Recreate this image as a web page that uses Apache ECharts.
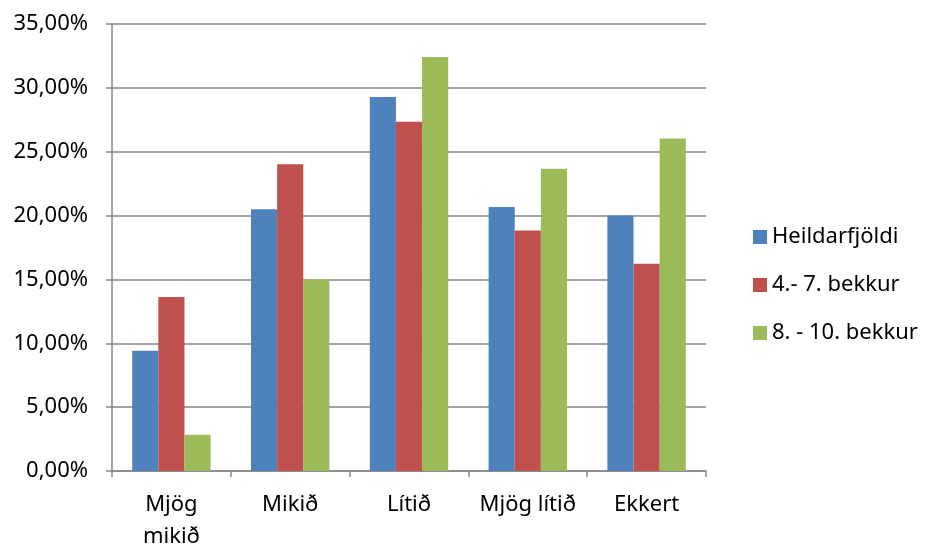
<!DOCTYPE html>
<html>
<head>
<meta charset="utf-8">
<script src="https://cdn.jsdelivr.net/npm/echarts@6/dist/echarts.min.js"></script>
<style>
html, body { margin: 0; padding: 0; background: #fff; }
#chart { width: 925px; height: 546px; }
</style>
</head>
<body>
<div id="chart"></div>
<script>
var categories = ['Mjög\nmikið', 'Mikið', 'Lítið', 'Mjög lítið', 'Ekkert'];
var seriesNames = ['Heildarfjöldi', '4.- 7. bekkur', '8. - 10. bekkur'];
var heildar = [9.42, 20.49, 29.28, 20.67, 20.0];
var yngri = [13.63, 24.02, 27.34, 18.84, 16.22];
var eldri = [2.83, 15.0, 32.42, 23.67, 26.03];
var colors = ['#4F81BD', '#C0504D', '#9BBB59'];

var font = 'Noto Sans';
var myChart = echarts.init(document.getElementById('chart'));

var option = {
    animation: false,
    color: colors,
    grid: {
        left: 112,
        right: 219,
        top: 24,
        bottom: 75,
        outerBoundsMode: 'none'
    },
    legend: {
        orient: 'vertical',
        left: 748,
        top: 221,
        itemWidth: 14,
        itemHeight: 14,
        itemGap: 26,
        icon: 'rect',
        data: seriesNames,
        textStyle: {
            color: '#000',
            fontSize: 22,
            fontFamily: font
        }
    },
    xAxis: {
        type: 'category',
        data: categories,
        axisLine: { lineStyle: { color: '#868686', width: 1.5 } },
        axisTick: { show: true, length: 6, lineStyle: { color: '#868686', width: 1.5 } },
        axisLabel: {
            interval: 0,
            color: '#000',
            fontSize: 22,
            fontFamily: font,
            margin: 18,
            lineHeight: 32
        }
    },
    yAxis: {
        type: 'value',
        min: 0,
        max: 35,
        interval: 5,
        axisLine: { show: true, lineStyle: { color: '#868686', width: 1.5 } },
        axisTick: { show: true, length: 6, lineStyle: { color: '#868686', width: 1.5 } },
        splitLine: { lineStyle: { color: '#868686', width: 1.5 } },
        axisLabel: {
            color: '#000',
            fontSize: 22,
            fontFamily: font,
            margin: 24,
            formatter: function (v) {
                return v.toFixed(2).replace('.', ',') + '%';
            }
        }
    },
    series: [
        {
            name: seriesNames[0],
            type: 'bar',
            data: heildar,
            barGap: '0%',
            barCategoryGap: '34%'
        },
        {
            name: seriesNames[1],
            type: 'bar',
            data: yngri,
            barGap: '0%',
            barCategoryGap: '34%'
        },
        {
            name: seriesNames[2],
            type: 'bar',
            data: eldri,
            barGap: '0%',
            barCategoryGap: '34%'
        }
    ]
};
myChart.setOption(option);
</script>
</body>
</html>
